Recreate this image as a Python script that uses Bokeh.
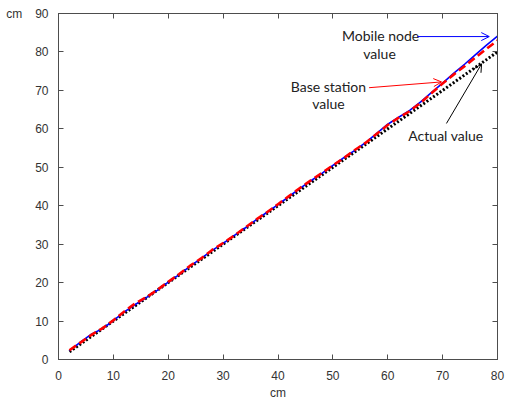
from bokeh.plotting import figure
from bokeh.models import (Range1d, LinearAxis, SingleIntervalTicker, Label,
                          Arrow, OpenHead, CustomJSTickFormatter)
from bokeh.embed import file_html
from bokeh.resources import INLINE

# ---- data ----
x_vals = [2, 4, 6, 8, 10, 12, 14, 16, 18, 20, 22, 24, 26, 28, 30, 32, 34, 36, 38, 40,
          42, 44, 46, 48, 50, 52, 54, 56, 58, 60, 62, 64, 66, 68, 70, 72, 74, 76, 78, 80]
actual = [2, 4, 6, 8, 10, 12, 14, 16, 18, 20, 22, 24, 26, 28, 30, 32, 34, 36, 38, 40,
          42, 44, 46, 48, 50, 52, 54, 56, 58, 60, 62, 64, 66, 68, 70, 72, 74, 76, 78, 80]
mobile = [2.3, 4.5, 6.6, 8.0, 10.1, 12.4, 14.3, 16.1, 18.0, 20.1, 22.1, 24.3, 26.3, 28.4,
          30.2, 32.2, 34.2, 36.3, 38.3, 40.3, 42.4, 44.5, 46.5, 48.4, 50.5, 52.5, 54.4,
          56.5, 58.8, 61.2, 63.0, 64.8, 67.0, 69.5, 71.9, 74.4, 76.8, 79.3, 81.8, 84.1]
base = [2.4, 4.4, 6.4, 8.1, 10.2, 12.5, 14.6, 16.2, 18.1, 20.2, 22.2, 24.4, 26.3, 28.5,
        30.3, 32.2, 34.3, 36.4, 38.3, 40.4, 42.5, 44.6, 46.6, 48.5, 50.5, 52.4, 54.5,
        56.4, 58.7, 61.0, 62.9, 64.6, 66.8, 69.3, 71.8, 74.1, 76.3, 78.6, 80.8, 83.0]
x_label = "cm"
y_label = "cm"

AX = "#4d4d4d"
TXT = "#333333"
TICK_FONT = "Liberation Sans"

p = figure(width=505, height=402, output_backend="svg", toolbar_location=None,
           x_range=Range1d(0, 80), y_range=Range1d(0, 90),
           min_border_left=58, min_border_right=8, min_border_top=13,
           min_border_bottom=41)
p.xgrid.visible = False
p.ygrid.visible = False
p.outline_line_color = AX
p.background_fill_color = "white"
p.border_fill_color = "white"

for ax in p.axis:
    ax.ticker = SingleIntervalTicker(interval=10)
    ax.major_tick_in = 5
    ax.major_tick_out = 0
    ax.minor_tick_line_color = None
    ax.axis_line_color = AX
    ax.major_tick_line_color = AX
    ax.major_label_text_font = TICK_FONT
    ax.major_label_text_font_size = "12px"
    ax.major_label_text_color = TXT
p.xaxis.major_label_standoff = 7
p.yaxis.major_label_standoff = 6

p.xaxis.axis_label = x_label
p.xaxis.axis_label_text_font = TICK_FONT
p.xaxis.axis_label_text_font_size = "12px"
p.xaxis.axis_label_text_font_style = "normal"
p.xaxis.axis_label_text_color = TXT
p.xaxis.axis_label_standoff = 3

# y label horizontal at the top of the left axis
yax = p.yaxis[0]
yax.axis_label = y_label
yax.axis_label_orientation = "horizontal"
yax.axis_label_align = "end"
yax.axis_label_text_font = TICK_FONT
yax.axis_label_text_font_size = "12px"
yax.axis_label_text_font_style = "normal"
yax.axis_label_text_color = TXT
yax.axis_label_standoff = 10

for loc in ("right", "above"):
    a = LinearAxis(ticker=SingleIntervalTicker(interval=10), major_tick_in=5,
                   major_tick_out=0, minor_tick_line_color=None,
                   axis_line_color=AX, major_tick_line_color=AX,
                   formatter=CustomJSTickFormatter(code="return ''"),
                   major_label_standoff=0)
    p.add_layout(a, loc)

p.line(x_vals, actual, line_color="black", line_width=3, line_dash="2 2")
p.line(x_vals, mobile, line_color="blue", line_width=1.6)
p.line(x_vals, base, line_color="red", line_width=2.6, line_dash="8 4")

ann_font = "Lato"
ann_size = "14px"
ann_col = "#222222"
for tx, xx, yy in [("Mobile node", 58.7, 84.2), ("value", 58.5, 79.5),
                   ("Base station", 49.2, 71.1), ("value", 49.2, 66.5),
                   ("Actual value", 70.6, 58.3)]:
    p.add_layout(Label(x=xx, y=yy, text=tx, text_align="center",
                       text_baseline="middle", text_font=ann_font,
                       text_font_size=ann_size, text_color=ann_col))

p.add_layout(Arrow(end=OpenHead(size=8, line_color="blue", line_width=1),
                   x_start=65.4, y_start=84.0, x_end=78.5, y_end=84.0,
                   line_color="blue", line_width=1))
p.add_layout(Arrow(end=OpenHead(size=8, line_color="red", line_width=1),
                   x_start=56.6, y_start=70.7, x_end=69.8, y_end=72.2,
                   line_color="red", line_width=1))
p.add_layout(Arrow(end=OpenHead(size=8, line_color="black", line_width=1),
                   x_start=70.7, y_start=61.4, x_end=77.1, y_end=76.9,
                   line_color="black", line_width=1))

open("out.html", "w").write(file_html(p, INLINE))
